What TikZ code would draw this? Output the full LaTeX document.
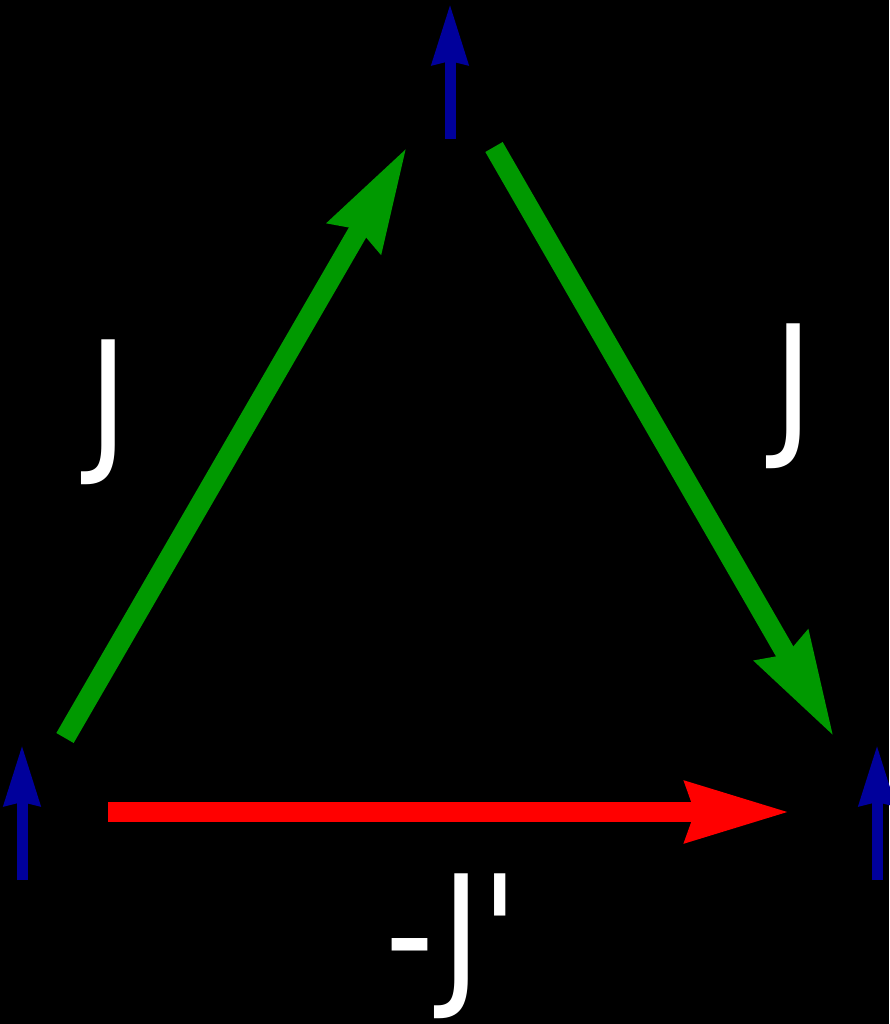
\documentclass[tikz,border=0pt]{standalone}
\usepackage{fontspec}
\newfontfamily\lab{DejaVu Sans}[Ligatures=TeXOff]
\usetikzlibrary{arrows.meta}
\definecolor{spin}{RGB}{0,0,155}
\definecolor{bondJ}{RGB}{0,153,0}
\definecolor{bondK}{RGB}{255,0,0}
\tikzset{
  spinarrow/.style={draw=spin, line width=11pt, -{Stealth[length=60pt,width=35pt,inset=3pt]}},
  bondarrow/.style={line width=20pt, -{Stealth[length=103pt,width=58pt,inset=8pt]}},
  lbl/.style={text=white, inner sep=0pt, xscale=0.87, font=\lab\fontsize{156}{160}\selectfont}
}
\begin{document}
\begin{tikzpicture}[x=1pt,y=-1pt]
\fill[black] (0,0) rectangle (889,1024);
\useasboundingbox (0,0) rectangle (889,1024);
% spins
\coordinate (s1a) at (22,880); \coordinate (s1b) at (22,745);
\coordinate (s2a) at (450,139); \coordinate (s2b) at (450,4);
\coordinate (s3a) at (877,880); \coordinate (s3b) at (877,745);
\draw[spinarrow] (s1a) -- (s1b);
\draw[spinarrow] (s2a) -- (s2b);
\draw[spinarrow] (s3a) -- (s3b);
% bonds
\coordinate (gLa) at (65,738); \coordinate (gLb) at (407,147);
\coordinate (gRa) at (494,147); \coordinate (gRb) at (834,737);
\coordinate (rA) at (108,812); \coordinate (rB) at (790,812);
\draw[bondarrow, draw=bondJ, fill=bondJ] (gLa) -- (gLb);
\draw[bondarrow, draw=bondJ, fill=bondJ] (gRa) -- (gRb);
\draw[bondarrow, draw=bondK, fill=bondK] (rA) -- (rB);
% labels
\node[lbl] (jl) at (109,412) {J};
\node[lbl] (jr) at (794,396) {J};
\node[lbl] (jb) at (452,946) {-J'};
\end{tikzpicture}
\end{document}
